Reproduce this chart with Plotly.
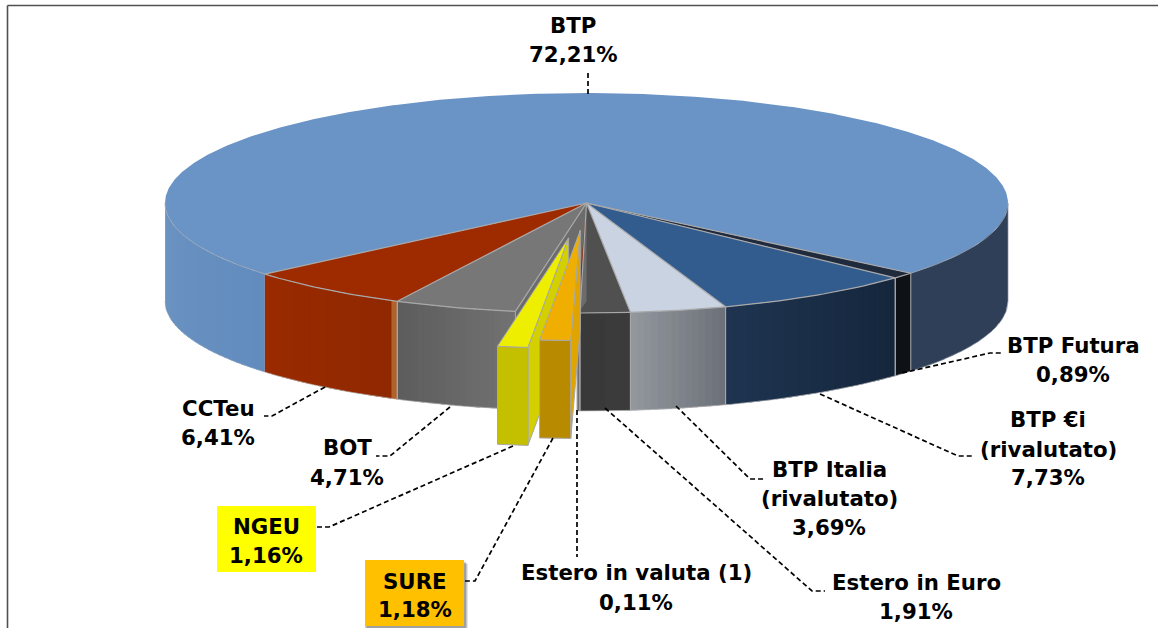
import math
import plotly.graph_objects as go

# ---- data (clockwise from the right-hand edge of BTP) ----
names = ["BTP Futura", "BTP €i", "BTP Italia", "Estero in Euro", "Estero in valuta", "SURE", "NGEU", "BOT", "CCTeu", "BTP"]
values = [0.89, 7.73, 3.69, 1.91, 0.11, 1.18, 1.16, 4.71, 6.41, 72.21]
value_labels = ["0,89%", "7,73%", "3,69%", "1,91%", "0,11%", "1,18%", "1,16%", "4,71%", "6,41%", "72,21%"]

# ---- projection of the tilted pie ----
CX, CY, RX, RY, DEPTH = 586.5, 203, 421.5, 110, 98
START = 50.3
explode = {"SURE": 0.25, "NGEU": 0.32}

top_col = {"BTP Futura": "#1F2A3C", "BTP €i": "#335C8E", "BTP Italia": "#CAD3E2", "Estero in Euro": "#505050",
           "Estero in valuta": "#8B2A0A", "SURE": "#F0AE00", "NGEU": "#EEEE00", "BOT": "#777777",
           "CCTeu": "#9E2A00", "BTP": "#6A93C6"}
# wall colour at the left and right end of the visible wall
wall_col = {"BTP Futura": ("#0E1116", "#0E1116"), "BTP €i": ("#1E3450", "#15263C"), "BTP Italia": ("#93989F", "#6C7179"),
            "Estero in Euro": ("#383838", "#3C3C3C"), "Estero in valuta": ("#707070", "#707070"),
            "SURE": ("#B88A00", "#B88A00"), "NGEU": ("#C4C000", "#C4C000"), "BOT": ("#5C5C5C", "#727272"),
            "CCTeu": ("#9A2A00", "#8F2800"), "BTP": ("#6C94C2", "#628CBE")}
side_col = {"SURE": "#E0A400", "NGEU": "#D4D000"}
EDGE = "#A8A8A8"


def pt(t, r=1.0, dx=0.0, dy=0.0, z=0.0):
    a = math.radians(t)
    return (CX + dx + RX * r * math.sin(a), CY + dy + RY * r * math.cos(a) + z)


def arc(t0, t1, dx=0.0, dy=0.0, z=0.0, n=None):
    n = n or max(2, int(abs(t1 - t0)) + 2)
    return [pt(t0 + (t1 - t0) * i / (n - 1), 1.0, dx, dy, z) for i in range(n)]


def mix(c0, c1, f):
    a = [int(c0[i:i + 2], 16) for i in (1, 3, 5)]
    b = [int(c1[i:i + 2], 16) for i in (1, 3, 5)]
    return "rgb(%d,%d,%d)" % tuple(round(p + (q - p) * f) for p, q in zip(a, b))


fig = go.Figure()


def poly(points, fill, line=None, width=1.0):
    xs, ys = zip(*points)
    fig.add_trace(go.Scatter(x=list(xs) + [xs[0]], y=list(ys) + [ys[0]], mode="lines", fill="toself",
                             fillcolor=fill, line=dict(color=line or fill, width=width if line else 0),
                             hoverinfo="skip", showlegend=False))


def path(points, color=EDGE, width=1.0, dash=None):
    xs, ys = zip(*points)
    fig.add_trace(go.Scatter(x=list(xs), y=list(ys), mode="lines", line=dict(color=color, width=width, dash=dash),
                             hoverinfo="skip", showlegend=False))


def wall(t_hi, t_lo, c_left, c_right, dx=0.0, dy=0.0, depth=DEPTH, step=1.0):
    # t_hi is on the right; the strips run from right to left
    n = max(1, int(math.ceil((t_hi - t_lo) / step)))
    for i in range(n):
        a = t_hi - (t_hi - t_lo) * i / n
        b = t_hi - (t_hi - t_lo) * min(i + 1.5, n) / n
        f = (i + 0.5) / n
        poly(arc(a, b, dx, dy, n=3) + arc(b, a, dx, dy, depth, n=3), mix(c_right, c_left, f))


# slice angles from the values
slices = {}
t = START
for name, v in zip(names, values):
    slices[name] = (t, t - v * 3.6)
    t -= v * 3.6
BTP_RIGHT = START
BTP_LEFT = slices["BTP"][0]

# --- top of the whole unexploded pie ---
for name in names:
    if name in explode:
        continue
    a, b = slices[name]
    poly([(CX, CY)] + arc(a, b, n=max(3, int(abs(a - b) * 2))), top_col[name])

# --- outer walls (front half only) ---
wall(90, BTP_RIGHT, "#2E3F57", "#2E3F57", step=8)   # right part of BTP
wall(BTP_LEFT, -90, *wall_col["BTP"], step=1.5)     # left part of BTP
for name in names[:-1]:
    if name in explode:
        continue
    a, b = slices[name]
    wall(a, b, *wall_col[name], step=1.0 if abs(a - b) > 8 else 6)

# thin orange wall at the CCTeu/BOT joint
jb = slices["BOT"][1]
poly(arc(jb, jb - 0.9, n=3) + arc(jb - 0.9, jb, z=DEPTH, n=3), "#B0622A")

# --- face of BOT seen through the gap left by the exploded slices ---
g = slices["BOT"][0]
poly([(CX, CY), pt(g), pt(g, z=DEPTH), (CX, CY + DEPTH)], "#6C6C6C")
poly([(CX, CY)] + arc(slices["Estero in valuta"][0], slices["Estero in valuta"][1], n=3), top_col["Estero in valuta"])

# --- edges of the pie ---
path(arc(BTP_LEFT, -90, n=40), "#9AA6B5", 0.8)
path(arc(90, BTP_RIGHT, n=40), "#9AA6B5", 0.8)
path(arc(90, BTP_RIGHT, z=DEPTH, n=30), "#8894A5", 0.7)
path(arc(BTP_LEFT, -90, z=DEPTH, n=30), "#8FA4C0", 0.6)
path([pt(90), pt(90, z=DEPTH)], "#8894A5", 0.7)
for name in names[:-1]:
    a, b = slices[name]
    if name in explode:
        continue
    path(arc(a, b, n=max(3, int(abs(a - b)) + 2)), EDGE, 1.2)
    path(arc(a, b, z=DEPTH, n=max(3, int(abs(a - b)) + 2)), "#B8B8B8", 0.7)
    path([pt(a), pt(a, z=DEPTH)], EDGE, 1.0)
    if name != "CCTeu":
        path([pt(b), pt(b, z=DEPTH)], EDGE, 1.0)
for tt in [slices[n][0] for n in names[:-1]] + [slices["CCTeu"][1]]:
    if tt in (slices["NGEU"][0], slices["SURE"][0]):
        continue
    path([(CX, CY), pt(tt)], EDGE, 1.2)

# --- exploded slices ---
for name in ["NGEU", "SURE"]:
    a, b = slices[name]
    m = math.radians((a + b) / 2)
    dx = RX * explode[name] * math.sin(m)
    dy = RY * explode[name] * math.cos(m)
    tip = (CX + dx, CY + dy)
    tip_low = (CX + dx, CY + dy + DEPTH)
    poly([tip, pt(a, 1, dx, dy), pt(a, 1, dx, dy, DEPTH), tip_low], side_col[name], EDGE, 1.0)
    poly(arc(a, b, dx, dy, n=5) + arc(b, a, dx, dy, DEPTH, n=5), wall_col[name][0], EDGE, 1.0)
    poly([tip] + arc(a, b, dx, dy, n=5), top_col[name], EDGE, 1.0)

# ---- leader lines ----
leaders = [
    [(588, 94), (588, 72)],
    [(902, 373), (990, 353), (1003, 353)],
    [(820, 394), (958, 456), (972, 456)],
    [(676, 406), (750, 479), (765, 479)],
    [(605, 408), (812, 591), (825, 591)],
    [(577, 410), (577, 557)],
    [(553, 438), (475, 581), (465, 581)],
    [(513, 446), (329, 527), (316, 527)],
    [(450, 407), (390, 456), (376, 456)],
    [(325, 387), (272, 416), (264, 416)],
]
for seg in leaders:
    path(seg, "#000000", 1.7, "5px,3px")

# ---- text ----
FONT = dict(family="DejaVu Sans", size=21.3, color="#000000")
label_lines = [
    ("BTP", 573, 25), (value_labels[9], 573, 54),
    ("BTP Futura", 1073, 345), (value_labels[0], 1073, 374),
    ("BTP €i", 1048, 419), ("(rivalutato)", 1048, 449), (value_labels[1], 1048, 477),
    ("BTP Italia", 829, 469), ("(rivalutato)", 829, 498), (value_labels[2], 829, 527),
    ("Estero in Euro", 916, 582), (value_labels[3], 916, 611),
    ("Estero in valuta (1)", 636, 572), (value_labels[4], 636, 602),
    ("SURE", 414.5, 581), (value_labels[5], 414.5, 609),
    ("NGEU", 266, 526), (value_labels[6], 266, 555),
    ("BOT", 347, 447), (value_labels[7], 347, 477),
    ("CCTeu", 218, 408), (value_labels[8], 218, 437),
]
annotations = [dict(x=x, y=y, text="<b>%s</b>" % s, showarrow=False, xref="x", yref="y",
                    xanchor="center", yanchor="middle", font=FONT) for s, x, y in label_lines]

shapes = []
for off, op in ((4, 0.10), (3, 0.14), (2, 0.18)):
    shapes.append(dict(type="rect", xref="x", yref="y", x0=365 + off - 2, x1=464 + off, y0=560 + off, y1=626 + off,
                       fillcolor="rgba(0,0,0,%s)" % op, line_width=0, layer="above"))
shapes.append(dict(type="rect", xref="x", yref="y", x0=365, x1=464, y0=560, y1=626, fillcolor="#FFC000", line_width=0, layer="above"))
shapes.append(dict(type="rect", xref="x", yref="y", x0=217, x1=316, y0=506, y1=572, fillcolor="#FFFF00", line_width=0, layer="above"))
# chart frame
shapes.append(dict(type="line", xref="x", yref="y", x0=7.5, x1=7.5, y0=5.5, y1=628, line=dict(color="#505050", width=1.6)))
shapes.append(dict(type="line", xref="x", yref="y", x0=7.5, x1=1158, y0=5.5, y1=5.5, line=dict(color="#505050", width=1.6)))

fig.update_layout(
    width=1158, height=628, margin=dict(l=0, r=0, t=0, b=0), showlegend=False,
    paper_bgcolor="white", plot_bgcolor="white", annotations=annotations, shapes=shapes,
    xaxis=dict(range=[0, 1158], visible=False, fixedrange=True),
    yaxis=dict(range=[628, 0], visible=False, fixedrange=True),
)
fig.write_html("out.html", post_script="document.body.style.margin='0';document.documentElement.style.overflow='hidden';",
               config=dict(displayModeBar=False))
